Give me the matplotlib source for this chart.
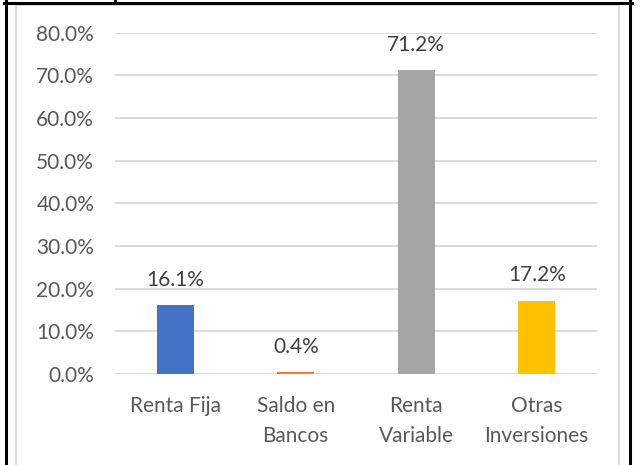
import matplotlib
matplotlib.use("Agg")
import matplotlib.pyplot as plt
from matplotlib.lines import Line2D

plt.rcParams['font.family'] = ['Lato', 'DejaVu Sans']

categories = ["Renta Fija", "Saldo en\nBancos", "Renta\nVariable", "Otras\nInversiones"]
values = [0.161, 0.004, 0.712, 0.172]
colors = ["#4472C4", "#ED7D31", "#A5A5A5", "#FFC000"]
yticks = [0.0, 0.1, 0.2, 0.3, 0.4, 0.5, 0.6, 0.7, 0.8]

W, H = 640, 465
fig = plt.figure(figsize=(6.4, 4.65), dpi=100)
ax = fig.add_axes([115 / W, 1 - 374 / H, (597 - 115) / W, (374 - 32.7) / H])

x = range(len(categories))
bars = ax.bar(x, values, width=0.31, color=colors, zorder=3)
for b, v in zip(bars, values):
    ax.annotate(f"{v * 100:.1f}%", (b.get_x() + b.get_width() / 2, v),
                xytext=(0, 11), textcoords="offset points",
                ha="center", va="bottom", fontsize=15, color="#404040")

ax.set_xlim(-0.5, 3.5)
ax.set_ylim(0, 0.8)
ax.set_yticks(yticks)
ax.set_yticklabels([f"{t * 100:.1f}%" for t in yticks])
ax.set_xticks(list(x))
ax.set_xticklabels(categories, linespacing=1.6)
ax.grid(axis="y", color="#D9D9D9", linewidth=1.3, zorder=0)
for s in ax.spines.values():
    s.set_visible(False)
ax.tick_params(axis="both", length=0, labelsize=15, labelcolor="#595959")
ax.tick_params(axis="y", pad=15)
ax.tick_params(axis="x", pad=16)

# gray chart frame
gray = "#D9D9D9"
fig.add_artist(Line2D([15.5 / W, 15.5 / W], [0, 1 - 5.5 / H], color=gray, lw=1.3))
fig.add_artist(Line2D([619 / W, 619 / W], [0, 1 - 5.5 / H], color=gray, lw=1.3))
fig.add_artist(Line2D([15.5 / W, 619 / W], [1 - 5.5 / H, 1 - 5.5 / H], color=gray, lw=1.3))

# black table borders
fig.add_artist(Line2D([5.5 / W, 5.5 / W], [0, 1], color="black", lw=2.2))
fig.add_artist(Line2D([630 / W, 630 / W], [0, 1], color="black", lw=2.2))
fig.add_artist(Line2D([4 / W, 632 / W], [1 - 3.5 / H, 1 - 3.5 / H], color="black", lw=2.2))
fig.add_artist(Line2D([115 / W, 115 / W], [1 - 3.5 / H, 1], color="black", lw=2.2))

fig.savefig("out.png", dpi=100)
